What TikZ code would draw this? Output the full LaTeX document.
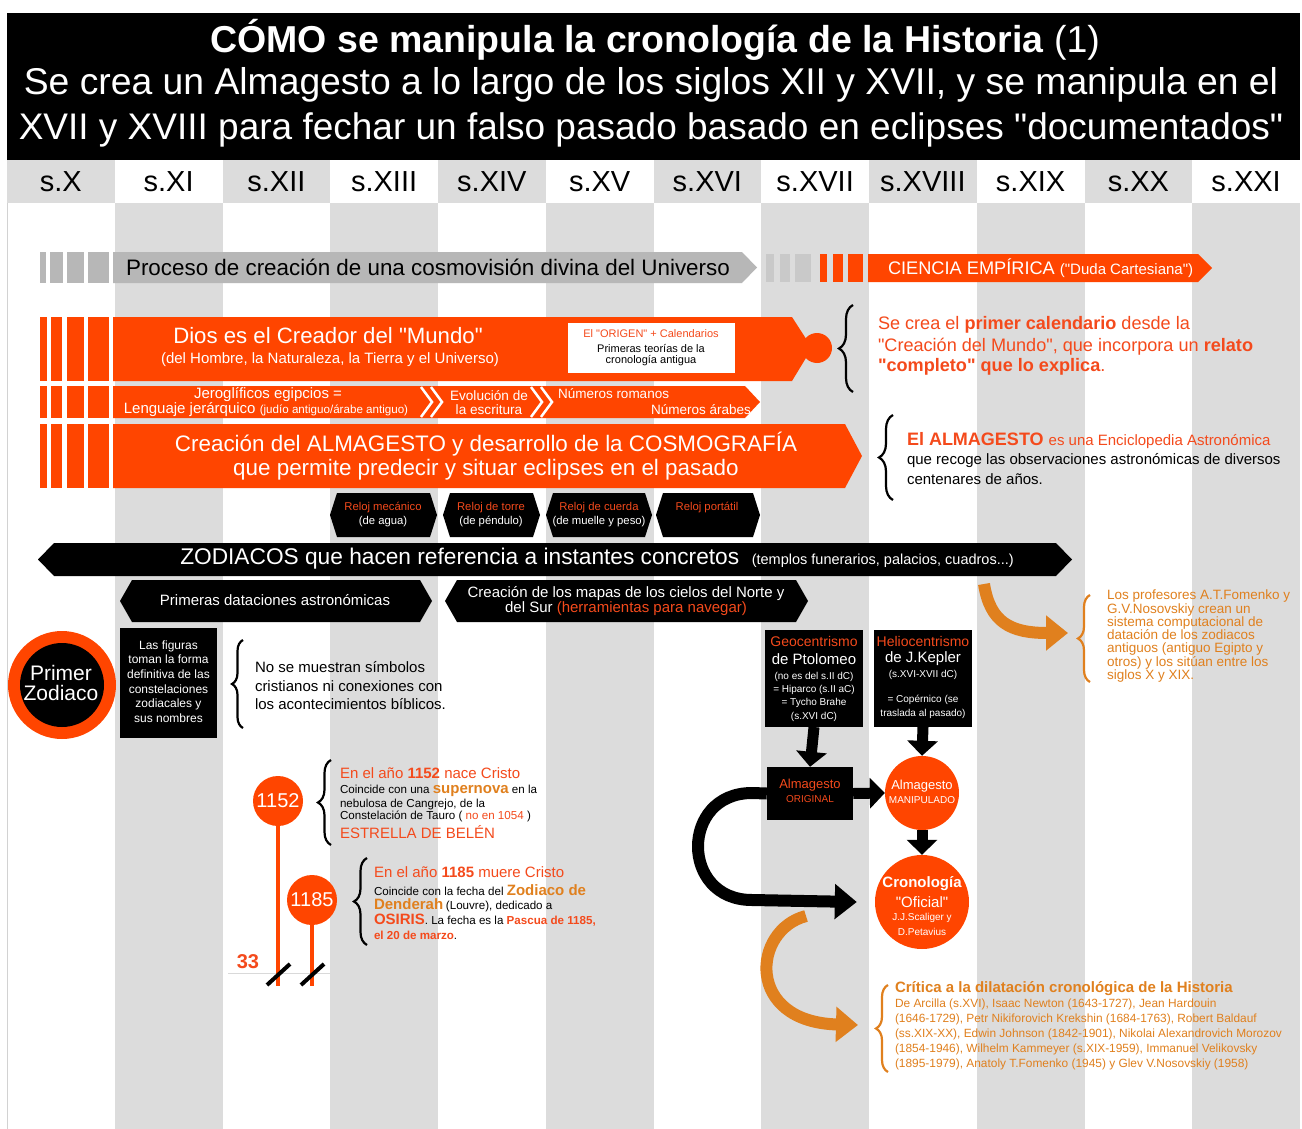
\documentclass[tikz,border=0pt]{standalone}
\usepackage{fontspec}
\setmainfont{Liberation Sans}
\newfontfamily\qfont{Liberation Sans}
\usetikzlibrary{arrows.meta,decorations.pathreplacing,calc}
\definecolor{org}{HTML}{FF4500}
\definecolor{otx}{HTML}{F44A1C}
\definecolor{dorg}{HTML}{E0801E}
\definecolor{stripe}{HTML}{DCDCDC}
\definecolor{gbar}{HTML}{B7B7B7}
\definecolor{gblk}{HTML}{C9C9C9}
\newcommand\fs[1]{\fontsize{#1}{#1}\selectfont}
\newcommand\fsb[2]{\fontsize{#1}{#2}\selectfont}
\newcommand\qq{{\qfont\char34}}
\tikzset{
  txt/.style={inner sep=0pt, outer sep=0pt},
  wtxt/.style={txt, text=white},
  otxt/.style={txt, text=otx},
  btxt/.style={txt, text=black},
  dtxt/.style={txt, text=dorg},
  bbrace/.style={decorate, decoration={brace, amplitude=#1}, line width=2.2pt},
  bbrace/.default=13pt,
  fatarrow/.style={line width=#1, -{Triangle[width=30pt,length=15pt]}},
  fatarrow/.default=11pt,
  darr/.style={line width=12pt, draw=dorg, -{Triangle[width=34pt,length=22pt]}},
  blkarr/.style={line width=12pt, draw=black, -{Triangle[width=34pt,length=22pt]}},
}
\newcommand\hexa[6][black]{\fill[#1] (#2,{(#4+#5)/2}) -- ({#2+#6},#4) -- ({#3-#6},#4) -- (#3,{(#4+#5)/2}) -- ({#3-#6},#5) -- ({#2+#6},#5) -- cycle;}
\begin{document}
\begin{tikzpicture}[x=1pt,y=-1pt]
\useasboundingbox (0,0) rectangle (1302,1129);
\fill[white] (0,0) rectangle (1302,1129);
% body stripes
\foreach \i in {1,3,5,7,9,11}{\fill[stripe] ({7+\i*107.75},203) rectangle ({7+(\i+1)*107.75},1129);}
\draw[gray!35, line width=1pt] (7,203) -- (7,1129);
% title
\fill[black] (7,13) rectangle (1300,160);
\node[wtxt,font=\fs{37.5}] (t1) at (655,40) {{\bfseries CÓMO se manipula la cronología de la Historia} (1)};
\node[wtxt,font=\fs{37.3}] (t2) at (651,85) {Se crea un Almagesto a lo largo de los siglos XII y XVII, y se manipula en el};
\node[wtxt,font=\fs{37}] (t3) at (651,130) {XVII y XVIII para fechar un falso pasado basado en eclipses \qq documentados\qq};
% header
\foreach \i in {0,2,...,10}{\fill[stripe] ({7+\i*107.75},160) rectangle ({7+(\i+1)*107.75},203);}
\foreach \i/\t in {0/X,1/XI,2/XII,3/XIII,4/XIV,5/XV,6/XVI,7/XVII,8/XVIII,9/XIX,10/XX,11/XXI}{
  \node[btxt,font=\fs{29}] (h\i) at ({7+(\i+0.5)*107.75},182) {s.\t};}
% row 1
\foreach \a/\b in {40/46,50/63,67/84,88/109}{\fill[gbar] (\a,252) rectangle (\b,283);}
\fill[gbar] (113,252) -- (742,252) -- (757,267.5) -- (742,283) -- (113,283) -- cycle;
\node[btxt,font=\fs{22.4}] (proceso) at (428,267.5) {Proceso de creación de una cosmovisión divina del Universo};
\foreach \a/\b in {766/774,780/790,795/811}{\fill[gblk] (\a,254) rectangle (\b,282);}
\foreach \a/\b in {820/827,833/843,848/863}{\fill[org] (\a,254) rectangle (\b,282);}
\fill[org] (868,254) -- (1198,254) -- (1212,268) -- (1198,282) -- (868,282) -- cycle;
\node[wtxt,anchor=west] (ciencia) at (888,268) {\fs{18.2}CIENCIA EMPÍRICA \fs{15}(\qq Duda Cartesiana\qq)};
% left orange blocks
\foreach \ya/\yb in {317/381,386/418,424/488}{
  \foreach \a/\b in {40/47,51/62,67/84,88/109}{\fill[org] (\a,\ya) rectangle (\b,\yb);}}
% Dios
\fill[org] (113,317) -- (792,317) -- (812,348) -- (792,381) -- (113,381) -- cycle;
\fill[org] (817,348) circle (15);
\node[wtxt,font=\fs{22.2}] (dios) at (328,336) {Dios es el Creador del \qq Mundo\qq};
\node[wtxt,font=\fs{15}] (dios2) at (330,360) {(del Hombre, la Naturaleza, la Tierra y el Universo)};
\fill[white] (568,323) rectangle (735,373);
\node[otxt,font=\fs{11}] (orig1) at (651,334) {El \qq ORIGEN\qq{} + Calendarios};
\node[btxt,font=\fs{11}] (orig2) at (651,349) {Primeras teorías de la};
\node[btxt,font=\fs{11}] (orig3) at (651,361) {cronología antigua};
% row 3
\fill[org] (113,386) -- (745,386) -- (760,402) -- (745,418) -- (113,418) -- cycle;
\foreach \x in {421,431,531,541}{\draw[white,line width=2.5pt] (\x,387) -- ({\x+11},402) -- (\x,417);}
\node[wtxt,font=\fs{15}] (jero1) at (268,395) {Jeroglíficos egipcios =};
\node[wtxt] (jero2) at (266,410) {\fs{15}Lenguaje jerárquico \fs{11.6}(judío antiguo/árabe antiguo)};
\node[wtxt,font=\fs{13.6}] (evo1) at (489,396) {Evolución de};
\node[wtxt,font=\fs{13.6}] (evo2) at (489,410) {la escritura};
\node[wtxt,font=\fs{13.5},anchor=west] (num1) at (558,394) {Números romanos};
\node[wtxt,font=\fs{13.5},anchor=east] (num2) at (751,410) {Números árabes};
% row 4
\fill[org] (113,424) -- (845,424) -- (862,456) -- (845,488) -- (113,488) -- cycle;
\node[wtxt,font=\fs{22.4}] (alm1) at (486,444) {Creación del ALMAGESTO y desarrollo de la COSMOGRAFÍA};
\node[wtxt,font=\fs{22.4}] (alm2) at (486,470) {que permite predecir y situar eclipses en el pasado};
% relojes
\hexa{330}{437}{493}{537}{7}
\hexa{443}{540}{493}{537}{7}
\hexa{546}{652}{493}{537}{7}
\hexa{656}{760}{493}{537}{7}
\node[otxt,font=\fs{11.3}] (r1a) at (383,508) {Reloj mecánico};
\node[wtxt,font=\fs{11.3}] (r1b) at (383,522) {(de agua)};
\node[otxt,font=\fs{11.3}] (r2a) at (491,508) {Reloj de torre};
\node[wtxt,font=\fs{11.3}] (r2b) at (491,522) {(de péndulo)};
\node[otxt,font=\fs{11.3}] (r3a) at (599,508) {Reloj de cuerda};
\node[wtxt,font=\fs{11.3}] (r3b) at (599,522) {(de muelle y peso)};
\node[otxt,font=\fs{11.3}] (r4a) at (707,508) {Reloj portátil};
% zodiacos
\hexa{38}{1072}{543}{576}{16}
\node[wtxt] (zod) at (597,559) {\fs{22.7}ZODIACOS que hacen referencia a instantes concretos \ \fs{14.5}(templos funerarios, palacios, cuadros...)};
\hexa{120}{432}{580}{622}{12}
\node[wtxt,font=\fs{15}] (prim) at (275,600) {Primeras dataciones astronómicas};
\hexa{445}{808}{580}{622}{12}
\node[wtxt,font=\fs{15}] (mapas1) at (626,594) {Creación de los mapas de los cielos del Norte y};
\node[wtxt,font=\fs{15}] (mapas2) at (626,609) {del Sur \textcolor{otx}{(herramientas para navegar)}};
% primer zodiaco
\fill[org] (62,685) circle (54);
\fill[black] (62,685) circle (42);
\node[wtxt,font=\fs{21}] (pz1) at (61,673) {Primer};
\node[wtxt,font=\fs{21}] (pz2) at (61,693) {Zodiaco};
\fill[black] (120,628) rectangle (217,738);
\node[wtxt,font=\fsb{12}{14.6},align=center] (figs) at (168.5,681.5) {Las figuras\\toman la forma\\definitiva de las\\constelaciones\\zodiacales y\\sus nombres};
\draw[bbrace=11pt] (243,728) -- (243,640);
\node[btxt,font=\fs{15},anchor=west] (nos1) at (255,667) {No se muestran símbolos};
\node[btxt,font=\fs{15},anchor=west] (nos2) at (255,686) {cristianos ni conexiones con};
\node[btxt,font=\fs{15},anchor=west] (nos3) at (255,704) {los acontecimientos bíblicos.};
% geocentrismo / heliocentrismo
\fill[black] (765,630) rectangle (863,727);
\coordinate (geoS) at (814,727);
\node[otxt,font=\fs{14}] (g1) at (814,641) {Geocentrismo};
\node[wtxt,font=\fs{15}] (g2) at (814,659) {de Ptolomeo};
\node[wtxt,font=\fs{10}] (g3) at (814,677) {(no es del s.II dC)};
\node[wtxt,font=\fs{10}] (g4) at (814,690) {= Hiparco (s.II aC)};
\node[wtxt,font=\fs{10}] (g5) at (814,703) {= Tycho Brahe};
\node[wtxt,font=\fs{10}] (g6) at (814,717) {(s.XVI dC)};
\fill[black] (874,630) rectangle (972,727);
\coordinate (helS) at (923,727);
\node[otxt,font=\fs{14}] (k1) at (923,641) {Heliocentrismo};
\node[wtxt,font=\fs{15}] (k2) at (923,659) {de J.Kepler};
\node[wtxt,font=\fs{10}] (k3) at (923,675) {(s.XVI-XVII dC)};
\node[wtxt,font=\fs{10}] (k4) at (923,700) {= Copérnico (se};
\node[wtxt,font=\fs{10}] (k5) at (923,714) {traslada al pasado)};
% almagesto boxes
\node[fill=black,minimum width=86pt,minimum height=53pt,inner sep=0pt] (origbox) at (810,793.5) {};
\node[otxt,font=\fs{13}] (o1) at (810,785) {Almagesto};
\node[otxt,font=\fs{10}] (o2) at (810,799) {ORIGINAL};
\node[circle,fill=org,minimum size=74pt,inner sep=0pt] (manip) at (922,793) {};
\node[wtxt,font=\fs{13}] (m1) at (922,786) {Almagesto};
\node[wtxt,font=\fs{10}] (m2) at (922,800) {MANIPULADO};
\node[circle,fill=org,minimum size=94pt,inner sep=0pt] (cron) at (922,902) {};
\node[wtxt,font=\bfseries\fs{15}] (c1) at (922,884) {Cronología};
\node[wtxt,font=\fs{15}] (c2) at (922,902) {\qq Oficial\qq};
\node[wtxt,font=\fs{10}] (c3) at (922,918) {J.J.Scaliger y};
\node[wtxt,font=\fs{10}] (c4) at (922,932) {D.Petavius};
\draw[fatarrow] (geoS) -- (origbox.north);
\draw[fatarrow] (helS) -- (manip.north);
\draw[fatarrow] (origbox.east) -- (manip.west);
\draw[fatarrow] (manip.south) -- (cron.north);
\draw[blkarr] (origbox.west) -- (752,793) .. controls (680,793) and (680,900) .. (752,900) -- ($(cron.west)+(-18,0)$);
% orange curved arrows
\draw[darr] (984,584) .. controls (990,622) and (1010,633) .. (1068,633);
\draw[darr] (806,916) .. controls (752,930) and (745,1022) .. (858,1025);
% Fomenko text
\draw[bbrace=12pt, draw=dorg] (1090,682) -- (1090,595);
\node[dtxt,font=\fsb{13.5}{13.3},align=left,anchor=north west] (fom) at (1107,590) {Los profesores A.T.Fomenko y\\G.V.Nosovskiy crean un\\sistema computacional de\\datación de los zodiacos\\antiguos (antiguo Egipto y\\otros) y los sitúan entre los\\siglos X y XIX.};
% Critica
\draw[bbrace=12pt, draw=dorg] (888,1072) -- (888,985);
\node[dtxt,font=\bfseries\fs{15},anchor=west] (crit) at (895,989) {Crítica a la dilatación cronológica de la Historia};
\node[dtxt,font=\fsb{11.9}{15},align=left,anchor=north west] (critl) at (895,999) {De Arcilla (s.XVI), Isaac Newton (1643-1727), Jean Hardouin\\(1646-1729), Petr Nikiforovich Krekshin (1684-1763), Robert Baldauf\\(ss.XIX-XX), Edwin Johnson (1842-1901), Nikolai Alexandrovich Morozov\\(1854-1946), Wilhelm Kammeyer (s.XIX-1959), Immanuel Velikovsky\\(1895-1979), Anatoly T.Fomenko (1945) y Glev V.Nosovskiy (1958)};
% right braces texts
\draw[bbrace=14pt] (853,392) -- (853,305);
\node[otxt,font=\fs{18.1},anchor=west] (cal1) at (878,325) {Se crea el \textbf{primer calendario} desde la};
\node[otxt,font=\fs{18.1},anchor=west] (cal2) at (878,347) {\qq Creación del Mundo\qq, que incorpora un \textbf{relato}};
\node[otxt,font=\fs{18.1},anchor=west] (cal3) at (878,367) {\textbf{\qq completo\qq{} que lo explica}.};
\draw[bbrace=14pt] (893,500) -- (893,415);
\node[otxt,anchor=west] (al1) at (907,441) {\fs{18}\textbf{El ALMAGESTO} \fs{15}es una Enciclopedia Astronómica};
\node[btxt,font=\fs{15},anchor=west] (al2) at (907,461) {que recoge las observaciones astronómicas de diversos};
\node[btxt,font=\fs{15},anchor=west] (al3) at (907,479) {centenares de años.};
% timeline
\draw[gray!30, line width=0.8pt] (228,973) -- (330,973);
\node[circle,fill=org,minimum size=50pt,inner sep=0pt] (y1152) at (278,801) {};
\node[wtxt,font=\fs{20}] at (y1152) {1152};
\node[circle,fill=org,minimum size=50pt,inner sep=0pt] (y1185) at (312,900) {};
\node[wtxt,font=\fs{20}] at (y1185) {1185};
\coordinate (e1) at (278,986);
\coordinate (e2) at (312,986);
\draw[org, line width=4pt] (y1152.south) -- (e1);
\draw[org, line width=4pt] (y1185.south) -- (e2);
\draw[black, line width=4pt] (267,985) -- (290,964);
\draw[black, line width=4pt] (301,985) -- (324,964);
\node[otxt,font=\bfseries\fs{20}] (n33) at (248,962) {33};
\draw[bbrace=13pt] (331,845) -- (331,760);
\node[otxt,font=\fs{15},anchor=west] (a1) at (340,773) {En el año \textbf{1152} nace Cristo};
\node[btxt,anchor=west] (a2) at (340,791) {\fs{11.6}Coincide con una \textcolor{dorg}{\bfseries\fs{15}supernova} \fs{11.6}en la};
\node[btxt,font=\fs{11.6},anchor=west] (a3) at (340,804) {nebulosa de Cangrejo, de la};
\node[btxt,font=\fs{11.6},anchor=west] (a4) at (340,816) {Constelación de Tauro ( \textcolor{otx}{no en 1054} )};
\node[otxt,font=\fs{15},anchor=west] (a5) at (340,832) {ESTRELLA DE BELÉN};
\draw[bbrace=13pt] (367,945) -- (367,858);
\node[otxt,font=\fs{15},anchor=west] (b1) at (374,872) {En el año \textbf{1185} muere Cristo};
\node[btxt,anchor=west] (b2) at (374,890) {\fs{11.6}Coincide con la fecha del \textcolor{dorg}{\bfseries\fs{15}Zodiaco de}};
\node[btxt,anchor=west] (b3) at (374,905) {\textcolor{dorg}{\bfseries\fs{15}Denderah} \fs{11.6}(Louvre), dedicado a};
\node[btxt,anchor=west] (b4) at (374,920) {\textcolor{otx}{\bfseries\fs{15}OSIRIS}\fs{11.6}. La fecha es la \textcolor{otx}{\bfseries Pascua de 1185,}};
\node[btxt,anchor=west] (b5) at (374,935) {\fs{11.6}\textcolor{otx}{\bfseries el 20 de marzo}.};
\end{tikzpicture}
\end{document}
